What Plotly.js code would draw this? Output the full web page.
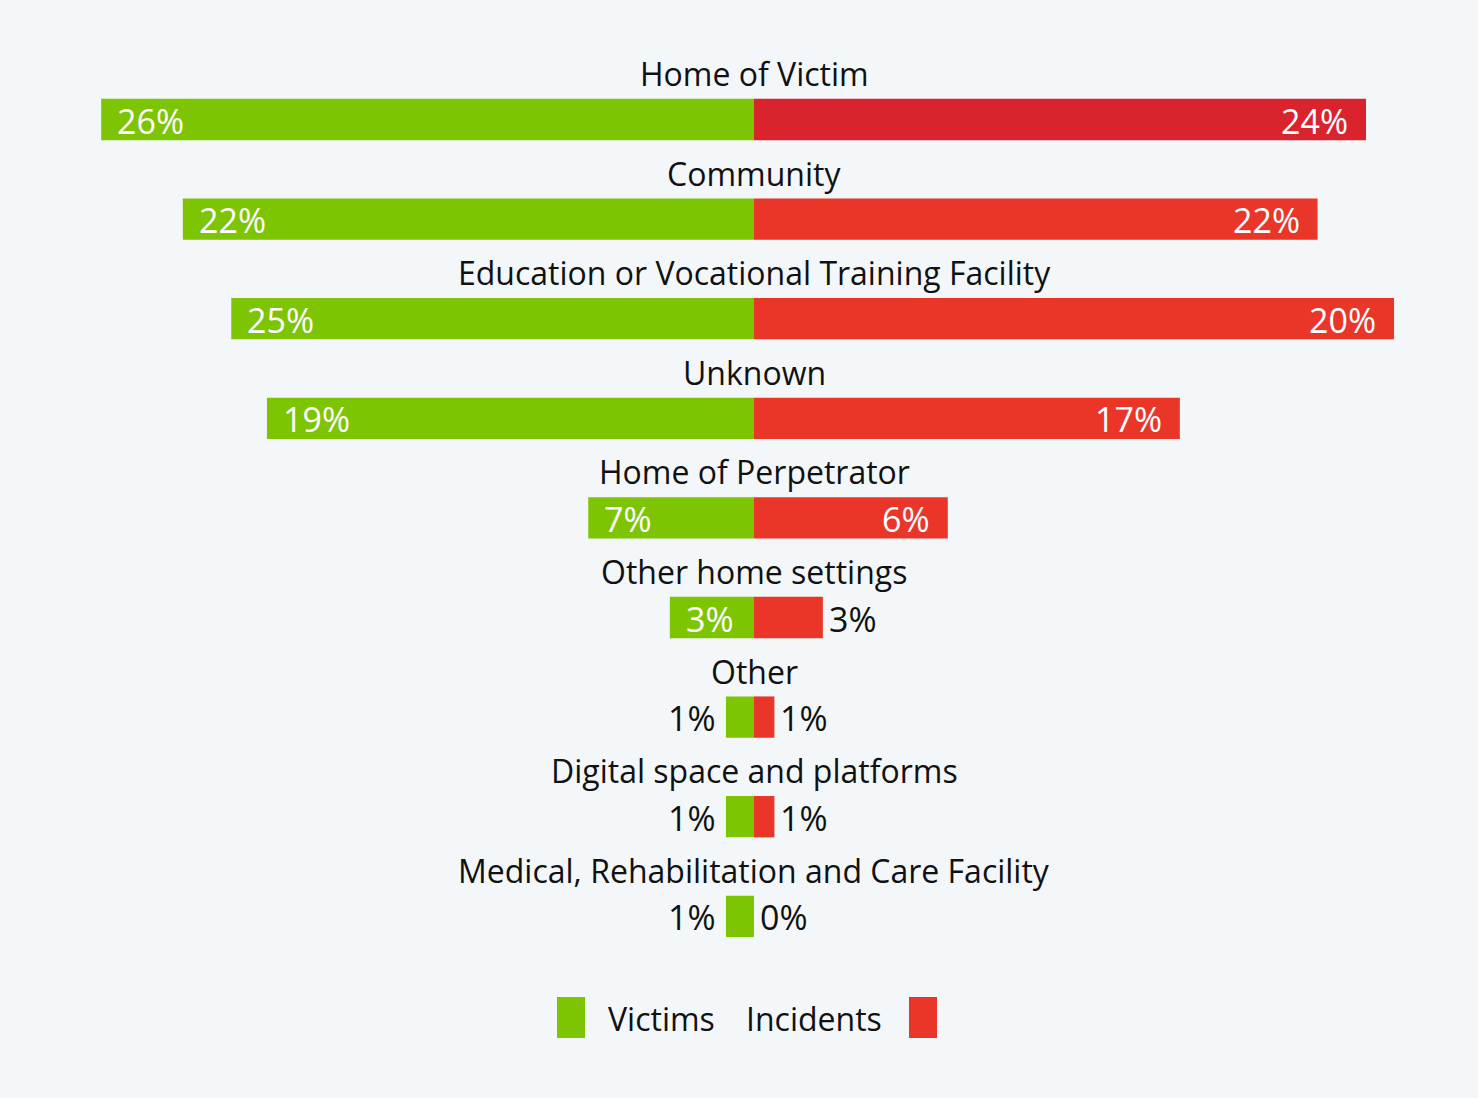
<!DOCTYPE html>
<html>
<head>
<meta charset="utf-8">
<script src="https://cdn.plot.ly/plotly-3.0.1.min.js"></script>
<style>
  html, body { margin: 0; padding: 0; background: #f3f7fa; }
  #chart { width: 1478px; height: 1098px; }
</style>
</head>
<body>
<div id="chart"></div>
<script>
// ---- Data ----
const categories = [
  "Home of Victim",
  "Community",
  "Education or Vocational Training Facility",
  "Unknown",
  "Home of Perpetrator",
  "Other home settings",
  "Other",
  "Digital space and platforms",
  "Medical, Rehabilitation and Care Facility"
];
// bar lengths as drawn (percent)
const victims   = [25.6, 22.4, 20.5, 19.1, 6.5, 3.3, 1.1, 1.1, 1.1];
const incidents = [24.0, 22.1, 25.1, 16.7, 7.6, 2.7, 0.8, 0.8, 0.0];
// printed labels
const victimLabels   = ["26%", "22%", "25%", "19%", "7%", "3%", "1%", "1%", "1%"];
const incidentLabels = ["24%", "22%", "20%", "17%", "6%", "3%", "1%", "1%", "0%"];
const seriesNames = ["Victims", "Incidents"];

// ---- Styles ----
const GREEN = "#7dc403";
const RED = "#ea3628";
const RED_DARK = "#d9232d";
const BG = "#f3f7fa";
const FONT = "Open Sans, Noto Sans, sans-serif";
const TEXT = "#111111";
const INSIDE_MIN = 3.0;

const redColors = categories.map((c, i) => i === 0 ? RED_DARK : RED);

const traces = [
  {
    type: "bar", orientation: "h", name: seriesNames[0],
    y: categories, x: victims.map(v => -v),
    marker: { color: GREEN, line: { width: 0 } },
    width: 0.415, hoverinfo: "skip", showlegend: false
  },
  {
    type: "bar", orientation: "h", name: seriesNames[1],
    y: categories, x: incidents,
    marker: { color: redColors, line: { width: 0 } },
    width: 0.415, hoverinfo: "skip", showlegend: false
  }
];

const annotations = [];
categories.forEach((cat, i) => {
  // category title above bar
  annotations.push({
    x: 0, y: cat, xref: "x", yref: "y", text: cat, showarrow: false,
    xanchor: "center", yanchor: "middle", yshift: 46,
    font: { family: FONT, size: 32, color: TEXT }
  });
  // victims label
  const v = victims[i];
  const vin = v >= INSIDE_MIN;
  annotations.push({
    x: -v, y: cat, xref: "x", yref: "y", text: victimLabels[i], showarrow: false,
    xanchor: vin ? "left" : "right", yanchor: "middle",
    xshift: vin ? 14 : -8, yshift: -1,
    font: { family: FONT, size: 34, color: vin ? "#ffffff" : TEXT }
  });
  // incidents label
  const w = incidents[i];
  const win = w >= INSIDE_MIN;
  annotations.push({
    x: w, y: cat, xref: "x", yref: "y", text: incidentLabels[i], showarrow: false,
    xanchor: win ? "right" : "left", yanchor: "middle",
    xshift: win ? -16 : 4, yshift: -1,
    font: { family: FONT, size: 34, color: win ? "#ffffff" : TEXT }
  });
});

// custom legend (symbols left of Victims, right of Incidents)
const W = 1478, H = 1098;
annotations.push({
  x: 606 / W, y: 1 - 1018 / H, xref: "paper", yref: "paper", text: seriesNames[0],
  showarrow: false, xanchor: "left", yanchor: "middle",
  font: { family: FONT, size: 32, color: TEXT }
});
annotations.push({
  x: 884 / W, y: 1 - 1018 / H, xref: "paper", yref: "paper", text: seriesNames[1],
  showarrow: false, xanchor: "right", yanchor: "middle",
  font: { family: FONT, size: 32, color: TEXT }
});
const shapes = [
  { type: "rect", xref: "paper", yref: "paper", x0: 557 / W, x1: 585 / W,
    y0: 1 - 1038 / H, y1: 1 - 997 / H, fillcolor: GREEN, line: { width: 0 } },
  { type: "rect", xref: "paper", yref: "paper", x0: 909 / W, x1: 937 / W,
    y0: 1 - 1038 / H, y1: 1 - 997 / H, fillcolor: RED, line: { width: 0 } }
];

const K = 25.5, CX = 754;
const layout = {
  width: W, height: H,
  margin: { l: 0, r: 0, t: 0, b: 0, pad: 0 },
  paper_bgcolor: BG, plot_bgcolor: BG,
  barmode: "relative",
  showlegend: false,
  xaxis: {
    range: [-CX / K, (W - CX) / K], visible: false, fixedrange: true,
    showgrid: false, zeroline: false
  },
  yaxis: {
    type: "category", categoryorder: "array", categoryarray: categories,
    range: [(H - 119.5) / 99.6, -119.5 / 99.6],
    visible: false, showgrid: false, zeroline: false, fixedrange: true
  },
  annotations: annotations,
  shapes: shapes
};

Plotly.newPlot("chart", traces, layout, { displayModeBar: false, staticPlot: true });
</script>
</body>
</html>
